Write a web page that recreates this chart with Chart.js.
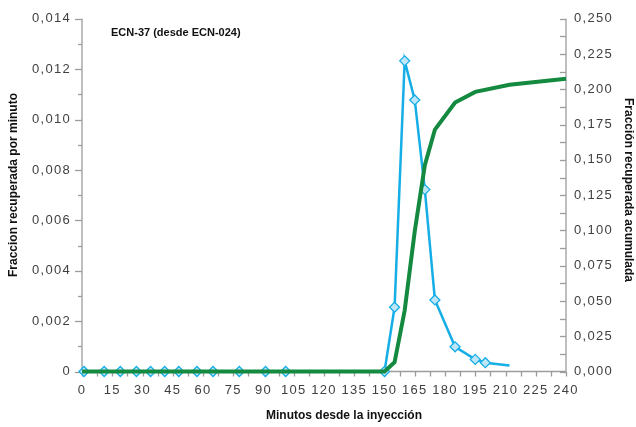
<!DOCTYPE html>
<html>
<head>
<meta charset="utf-8">
<script src="https://cdn.jsdelivr.net/npm/chart.js@4/dist/chart.umd.min.js"></script>
<style>
  html, body { margin: 0; padding: 0; background: #ffffff; }
  #wrap { width: 636px; height: 427px; position: relative; }
</style>
</head>
<body>
<div id="wrap"><canvas id="chart"></canvas></div>
<script>
// Fraction recovered per minute (left axis)
const rateMinutes = [1, 11, 19, 27, 34, 41, 48, 57, 65, 78, 91, 101, 150, 155, 160, 165, 170, 175, 185, 195, 200, 212];
const rateValues  = [0, 0, 0, 0, 0, 0, 0, 0, 0, 0, 0, 0, 0, 0.00255, 0.01233, 0.01078, 0.00722, 0.00284, 0.00098, 0.00048, 0.00035, 0.00024];

// Cumulative fraction recovered (right axis)
const cumMinutes = [0, 150, 155, 160, 165, 170, 175, 185, 195, 212, 240];
const cumValues  = [0, 0, 0.0065, 0.0432, 0.0994, 0.1462, 0.1715, 0.1907, 0.1982, 0.2033, 0.2075];

// Axis ticks
const minuteTicks = [0, 15, 30, 45, 60, 75, 90, 105, 120, 135, 150, 165, 180, 195, 210, 225, 240];
const rateTicks   = [0, 0.002, 0.004, 0.006, 0.008, 0.010, 0.012, 0.014];
const cumTicks    = [0, 0.025, 0.05, 0.075, 0.1, 0.125, 0.15, 0.175, 0.2, 0.225, 0.25];

const titleText  = 'ECN-37 (desde ECN-024)';
const xTitle     = 'Minutos desde la inyección';
const yLeftTitle = 'Fraccion recuperada por minuto';
const yRightTitle = 'Fracción recuperada acumulada';

const BLUE = '#16aee6';
const BLUE_FILL = '#bfe6f7';
const GREEN = '#138a3f';
const AXIS = '#9c9c9c';
const TEXT = '#404040';

const toPoints = (xs, ys) => xs.map((x, i) => ({ x, y: ys[i] }));
const commaFmt = (v, d) => v.toFixed(d).replace('.', ',');

// midpoints between consecutive major ticks
const minorOf = arr => arr.slice(1).map((v, i) => (v + arr[i]) / 2);

const tickSpacing = {
  id: 'tickSpacing',
  beforeDraw(chart) { chart.ctx.letterSpacing = '1.3px'; }
};

const axisMarks = {
  id: 'axisMarks',
  beforeDatasetsDraw(chart) {
    const { ctx, chartArea: a, scales } = chart;
    ctx.save();
    ctx.strokeStyle = AXIS;
    ctx.lineWidth = 1.3;
    const seg = (x1, y1, x2, y2) => { ctx.beginPath(); ctx.moveTo(x1, y1); ctx.lineTo(x2, y2); ctx.stroke(); };

    // axis lines
    seg(a.left, a.top, a.left, a.bottom);
    seg(a.right, a.top, a.right, a.bottom);
    seg(a.left, a.bottom, a.right, a.bottom);

    // x ticks, major and minor, pointing down
    minuteTicks.concat(minorOf(minuteTicks)).forEach(v => {
      const px = Math.round(scales.x.getPixelForValue(v)) + 0.5;
      seg(px, a.bottom, px, a.bottom + 5);
    });
    // left ticks pointing outward
    rateTicks.forEach(v => {
      const py = Math.round(scales.yRate.getPixelForValue(v)) + 0.5;
      seg(a.left - 7, py, a.left, py);
    });
    minorOf(rateTicks).forEach(v => {
      const py = Math.round(scales.yRate.getPixelForValue(v)) + 0.5;
      seg(a.left - 4, py, a.left, py);
    });
    // right ticks pointing into the plot
    cumTicks.concat(minorOf(cumTicks)).forEach(v => {
      const py = Math.round(scales.yCum.getPixelForValue(v)) + 0.5;
      seg(a.right - 6, py, a.right, py);
    });
    ctx.restore();
  },
  afterDraw(chart) {
    const { ctx } = chart;
    ctx.save();
    ctx.letterSpacing = '0px';
    ctx.fillStyle = '#111';
    ctx.textAlign = 'center';
    ctx.textBaseline = 'middle';
    ctx.font = 'bold 12px "Liberation Sans", Arial, sans-serif';
    ctx.fillText(xTitle, 344, 416);

    ctx.save();
    ctx.translate(14, 185);
    ctx.rotate(-Math.PI / 2);
    ctx.fillText(yLeftTitle, 0, 0);
    ctx.restore();

    ctx.save();
    ctx.translate(628, 190);
    ctx.rotate(Math.PI / 2);
    ctx.fillText(yRightTitle, 0, 0);
    ctx.restore();

    ctx.textAlign = 'left';
    ctx.font = 'bold 11px "Liberation Sans", Arial, sans-serif';
    ctx.fillText(titleText, 111, 33);
    ctx.restore();
  }
};

const tickFont = { family: '"Liberation Sans", Arial, sans-serif', size: 13 };

new Chart(document.getElementById('chart'), {
  type: 'line',
  data: {
    datasets: [
      {
        label: 'Fracción recuperada acumulada',
        data: toPoints(cumMinutes, cumValues),
        yAxisID: 'yCum',
        borderColor: GREEN,
        borderWidth: 4,
        pointRadius: 0,
        tension: 0,
        clip: false,
        order: 0
      },
      {
        label: 'Fracción recuperada por minuto',
        data: toPoints(rateMinutes, rateValues),
        yAxisID: 'yRate',
        borderColor: BLUE,
        borderWidth: 2.5,
        pointStyle: 'rectRot',
        pointRadius: c => (c.dataIndex === rateMinutes.length - 1 ? 0 : 5),
        pointBackgroundColor: BLUE_FILL,
        pointBorderColor: BLUE,
        pointBorderWidth: 1.3,
        tension: 0,
        clip: false,
        order: 1
      }
    ]
  },
  options: {
    responsive: true,
    maintainAspectRatio: false,
    animation: false,
    events: [],
    layout: { padding: { top: 15.5, left: 0, right: 0, bottom: 0 } },
    plugins: { legend: { display: false }, tooltip: { enabled: false } },
    scales: {
      x: {
        type: 'linear',
        min: 0, max: 240,
        afterFit: s => { s.height = 55.5; },
        afterBuildTicks: s => { s.ticks = minuteTicks.map(v => ({ value: v })); },
        grid: { display: false, drawTicks: false },
        border: { display: false },
        ticks: {
          padding: 11,
          color: TEXT,
          maxRotation: 0,
          autoSkip: false,
          font: tickFont,
          callback: v => String(v)
        }
      },
      yRate: {
        type: 'linear',
        position: 'left',
        min: 0, max: 0.014,
        afterFit: s => { s.width = 82; },
        afterBuildTicks: s => { s.ticks = rateTicks.map(v => ({ value: v })); },
        grid: { display: false, drawTicks: false },
        border: { display: false },
        ticks: {
          padding: 11,
          color: TEXT,
          autoSkip: false,
          font: tickFont,
          callback: v => (v === 0 ? '0' : commaFmt(v, 3))
        }
      },
      yCum: {
        type: 'linear',
        position: 'right',
        min: 0, max: 0.25,
        afterFit: s => { s.width = 70; },
        afterBuildTicks: s => { s.ticks = cumTicks.map(v => ({ value: v })); },
        grid: { display: false, drawTicks: false },
        border: { display: false },
        ticks: {
          padding: 8,
          color: TEXT,
          autoSkip: false,
          font: tickFont,
          callback: v => commaFmt(v, 3)
        }
      }
    }
  },
  plugins: [tickSpacing, axisMarks]
});
</script>
</body>
</html>
